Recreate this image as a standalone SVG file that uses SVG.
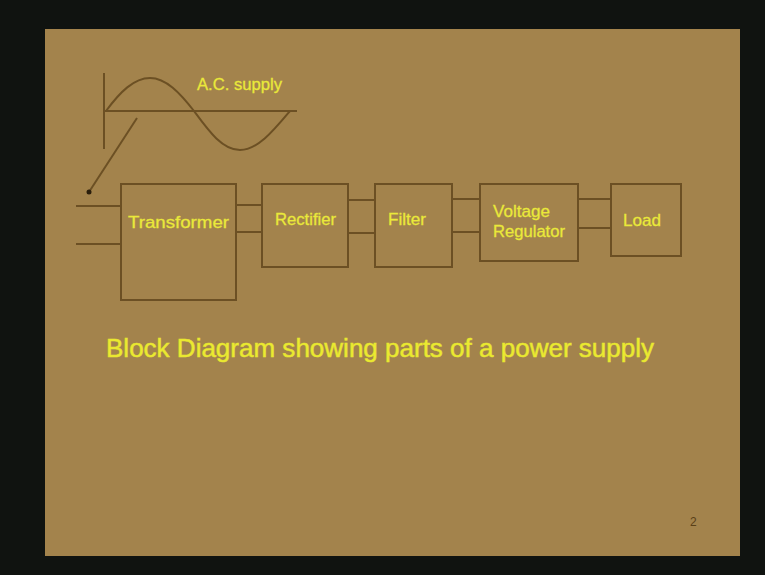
<svg xmlns="http://www.w3.org/2000/svg" width="765" height="575" viewBox="0 0 765 575">
  <style>
    .ln { stroke: #6c5024; stroke-width: 2; fill: none; }
    .box { stroke: #6c5024; stroke-width: 2; fill: none; }
    .lbl { font-family: "Liberation Sans", Arial, sans-serif; font-size: 17px; fill: #eceb3a; stroke: #e6e43a; stroke-width: 0.3; }
    .cap { font-family: "Liberation Sans", Arial, sans-serif; font-size: 25px; fill: #eceb30; stroke: #e6e430; stroke-width: 0.5; }
  </style>
  <rect x="0" y="0" width="765" height="575" fill="#101310"/>
  <rect x="45" y="29" width="695" height="527" fill="#a3834c"/>

  <g id="ac-supply">
    <line class="ln" x1="104" y1="73" x2="104" y2="149"/>
    <line class="ln" x1="104" y1="111" x2="297" y2="111"/>
    <path class="ln" d="M106,111 C120,92 134,78 150,78 C166,78 180,93 194,111 C208,130 222,150 240,150 C258,150 274,130 290,111"/>
    <line class="ln" x1="137" y1="118" x2="89" y2="192"/>
    <circle cx="89" cy="192" r="2.5" fill="#2a1e0c"/>
    <text class="lbl" x="197" y="90" textLength="85" lengthAdjust="spacingAndGlyphs">A.C. supply</text>
  </g>

  <g id="connectors">
    <line class="ln" x1="76" y1="206" x2="121" y2="206"/>
    <line class="ln" x1="76" y1="244" x2="121" y2="244"/>
    <line class="ln" x1="236" y1="205" x2="262" y2="205"/>
    <line class="ln" x1="236" y1="232" x2="262" y2="232"/>
    <line class="ln" x1="348" y1="200" x2="375" y2="200"/>
    <line class="ln" x1="348" y1="233" x2="375" y2="233"/>
    <line class="ln" x1="452" y1="199" x2="480" y2="199"/>
    <line class="ln" x1="452" y1="232" x2="480" y2="232"/>
    <line class="ln" x1="578" y1="199" x2="611" y2="199"/>
    <line class="ln" x1="578" y1="228" x2="611" y2="228"/>
  </g>

  <g id="transformer">
    <rect class="box" x="121" y="184" width="115" height="116"/>
    <text class="lbl" x="128" y="228" textLength="101" lengthAdjust="spacingAndGlyphs">Transformer</text>
  </g>
  <g id="rectifier">
    <rect class="box" x="262" y="184" width="86" height="83"/>
    <text class="lbl" x="275" y="225" textLength="61" lengthAdjust="spacingAndGlyphs">Rectifier</text>
  </g>
  <g id="filter">
    <rect class="box" x="375" y="184" width="77" height="83"/>
    <text class="lbl" x="388" y="225" textLength="38" lengthAdjust="spacingAndGlyphs">Filter</text>
  </g>
  <g id="voltage-regulator">
    <rect class="box" x="480" y="184" width="98" height="77"/>
    <text class="lbl" x="493" y="217" textLength="57" lengthAdjust="spacingAndGlyphs">Voltage</text>
    <text class="lbl" x="493" y="237" textLength="72" lengthAdjust="spacingAndGlyphs">Regulator</text>
  </g>
  <g id="load">
    <rect class="box" x="611" y="184" width="70" height="72"/>
    <text class="lbl" x="623" y="226" textLength="38" lengthAdjust="spacingAndGlyphs">Load</text>
  </g>

  <text class="cap" x="106" y="357" textLength="548" lengthAdjust="spacingAndGlyphs">Block Diagram showing parts of a power supply</text>
  <text x="690" y="526" font-family="Liberation Sans, Arial, sans-serif" font-size="12" fill="#5a4018">2</text>
</svg>
